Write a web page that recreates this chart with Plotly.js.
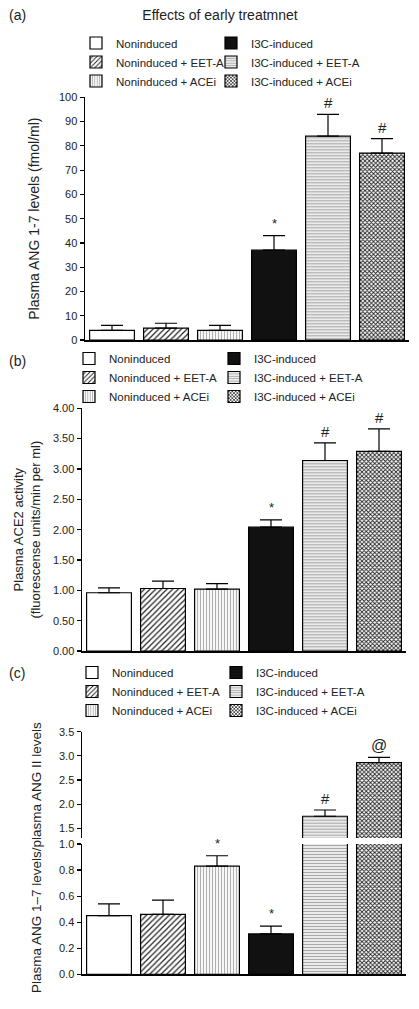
<!DOCTYPE html>
<html>
<head>
<meta charset="utf-8">
<script src="https://cdn.plot.ly/plotly-3.0.1.min.js"></script>
<style>html,body{margin:0;padding:0;background:#fff;}#chart{width:419px;height:1009px;}</style>
</head>
<body>
<div id="chart"></div>
<script>
// ---------- data ----------
const categories = ['Noninduced', 'Noninduced + EET-A', 'Noninduced + ACEi',
                    'I3C-induced', 'I3C-induced + EET-A', 'I3C-induced + ACEi'];
const ang17 = [4.0, 4.9, 4.0, 37, 84, 77];          // Plasma ANG 1-7 (fmol/ml)
const ang17Err = [2.0, 2.0, 2.0, 6, 9, 6];
const ace2 = [0.96, 1.03, 1.02, 2.04, 3.14, 3.29];  // ACE2 activity
const ace2Err = [0.08, 0.12, 0.09, 0.12, 0.29, 0.37];
const ratio = [0.45, 0.46, 0.83, 0.31, 1.75, 2.86]; // ANG1-7 / ANG II
const ratioErr = [0.09, 0.11, 0.08, 0.06, 0.13, 0.11];
const sigA = ['', '', '', '*', '#', '#'];
const sigB = ['', '', '', '*', '#', '#'];
const sigC = ['', '', '*', '*', '#', '@'];
const ticksA = {dtick: 10, fmt: 'd'};
const ticksB = {dtick: 0.5, fmt: '.2f'};
const ticksC = {dtick: 0.2, fmt: '.1f'};
const ticksCUpper = {dtick: 0.5, fmt: '.1f'};

// ---------- styles ----------
const FONT = 'Liberation Sans, Arial, Helvetica, sans-serif';
const W = 419, H = 1009;
const px = v => v / W;
const py = v => 1 - v / H;
const styles = [
  {color: '#ffffff', pattern: {shape: ''}},
  {color: '#ffffff', pattern: {shape: '/', fgcolor: '#222', bgcolor: '#fff', size: 4, solidity: 0.3, fillmode: 'replace'}},
  {color: '#ffffff', pattern: {shape: '|', fgcolor: '#b0b0b0', bgcolor: '#fff', size: 3, solidity: 0.4, fillmode: 'replace'}},
  {color: '#111111', pattern: {shape: ''}},
  {color: '#eeeeee', pattern: {shape: '-', fgcolor: '#a8a8a8', bgcolor: '#f2f2f2', size: 3, solidity: 0.4, fillmode: 'replace'}},
  {color: '#ffffff', pattern: {shape: 'x', fgcolor: '#222', bgcolor: '#fff', size: 3, solidity: 0.5, fillmode: 'replace'}}
];
const sigSize = {'*': 13, '#': 15, '@': 16};

const traces = [];
function addPanel(vals, errs, xa, ya, legends, showLegend, errMask) {
  categories.forEach((c, i) => {
    traces.push({
      type: 'bar', x: [c], y: [vals[i]], name: c,
      xaxis: xa, yaxis: ya,
      legend: legends[i < 3 ? 0 : 1],
      showlegend: showLegend,
      marker: {color: styles[i].color, pattern: styles[i].pattern, line: {color: '#000', width: 1.2}},
      error_y: {type: 'data', symmetric: false, array: [errs[i]], arrayminus: [0],
                color: '#000', thickness: 1.2, width: 11, visible: errMask ? errMask(i) : true},
      hoverinfo: 'skip'
    });
  });
}
const lowerMaxC = 1.0;
addPanel(ang17, ang17Err, 'x', 'y', ['legend', 'legend2'], true);
addPanel(ace2, ace2Err, 'x2', 'y2', ['legend3', 'legend4'], true);
addPanel(ratio, ratioErr, 'x3', 'y3', ['legend5', 'legend6'], true, i => ratio[i] + ratioErr[i] <= lowerMaxC);
addPanel(ratio, ratioErr, 'x4', 'y4', ['legend5', 'legend6'], false, i => ratio[i] + ratioErr[i] > lowerMaxC);

// significance marks
const annotations = [];
function addSig(sig, vals, errs, xa, yaFn) {
  sig.forEach((s, i) => {
    if (!s) return;
    const ya = yaFn(i);
    annotations.push({text: s, x: categories[i], y: vals[i] + errs[i], xref: ya === 'y4' ? 'x4' : xa, yref: ya,
      showarrow: false, yanchor: 'bottom', yshift: s === '*' ? 3 : 1,
      font: {family: FONT, size: sigSize[s], color: '#222'}});
  });
}
addSig(sigA, ang17, ang17Err, 'x', () => 'y');
addSig(sigB, ace2, ace2Err, 'x2', () => 'y2');
addSig(sigC, ratio, ratioErr, 'x3', i => ratio[i] + ratioErr[i] > lowerMaxC ? 'y4' : 'y3');

// panel letters and (c) y title
[['(a)', 15], ['(b)', 361], ['(c)', 673]].forEach(([t, y]) => annotations.push({
  text: t, xref: 'paper', yref: 'paper', x: px(7), y: py(y), xanchor: 'left', yanchor: 'middle',
  showarrow: false, font: {family: FONT, size: 14, color: '#222'}}));
annotations.push({text: 'Plasma ANG 1\u20137 levels/plasma ANG II levels', xref: 'paper', yref: 'paper',
  x: px(36), y: py(858), textangle: -90, showarrow: false, xanchor: 'center', yanchor: 'middle',
  font: {family: FONT, size: 13.5, color: '#222'}});

const xBase = (d) => ({domain: d, range: [-0.5, 5.5], type: 'category', categoryarray: categories,
  showticklabels: false, ticks: '', showline: true, linecolor: '#000', linewidth: 1.5,
  showgrid: false, zeroline: false, fixedrange: true});
const yBase = (d, r, t, title, fs, standoff) => ({domain: d, range: r, dtick: t.dtick, tick0: 0, tickformat: t.fmt,
  ticks: 'outside', ticklen: 4, tickwidth: 1.2, tickcolor: '#000', showline: true, linecolor: '#000',
  linewidth: 1.5, showgrid: false, zeroline: false, fixedrange: true,
  tickfont: {family: FONT, size: 11, color: '#222'},
  title: title ? {text: title, font: {family: FONT, size: fs, color: '#222'}, standoff: standoff} : undefined});

const legendBase = (xText, yTop) => ({x: px(xText - 40), xanchor: 'left', y: py(yTop), yanchor: 'top',
  orientation: 'v', bgcolor: 'rgba(0,0,0,0)', font: {family: FONT, size: 11.5, color: '#222'},
  itemclick: false, itemdoubleclick: false, traceorder: 'normal'});

const layout = {
  width: W, height: H, margin: {l: 0, r: 0, t: 0, b: 0},
  paper_bgcolor: '#fff', plot_bgcolor: 'rgba(0,0,0,0)',
  font: {family: FONT, color: '#222'},
  barmode: 'overlay', bargap: 0.17,
  title: {text: 'Effects of early treatmnet', x: px(220), xanchor: 'center', y: py(15), yanchor: 'middle',
          font: {family: FONT, size: 14, color: '#222'}},
  xaxis: Object.assign(xBase([px(85), px(409)]), {anchor: 'y'}),
  yaxis: Object.assign(yBase([py(340), py(97.3)], [0, 100], ticksA, 'Plasma ANG 1-7 levels (fmol/ml)', 14, 16), {anchor: 'x'}),
  xaxis2: Object.assign(xBase([px(82), px(406)]), {anchor: 'y2'}),
  yaxis2: Object.assign(yBase([py(651), py(408.3)], [0, 4], ticksB, 'Plasma ACE2 activity<br>(fluorescense units/min per ml)', 13, 9), {anchor: 'x2'}),
  xaxis3: Object.assign(xBase([px(82), px(406)]), {anchor: 'y3'}),
  yaxis3: Object.assign(yBase([py(974.3), py(844)], [0, lowerMaxC], ticksC), {anchor: 'x3'}),
  xaxis4: Object.assign(xBase([px(82), px(406)]), {anchor: 'y4', showline: false}),
  yaxis4: Object.assign(yBase([py(838), py(731.7)], [1.3, 3.5], ticksCUpper), {anchor: 'x4'}),
  legend: legendBase(116, 28.5), legend2: legendBase(251, 28.5),
  legend3: legendBase(109, 344), legend4: legendBase(254, 344),
  legend5: legendBase(112, 658), legend6: legendBase(256, 658),
  annotations: annotations,
  showlegend: true
};

Plotly.newPlot('chart', traces, layout, {staticPlot: true, displayModeBar: false});
</script>
</body>
</html>
